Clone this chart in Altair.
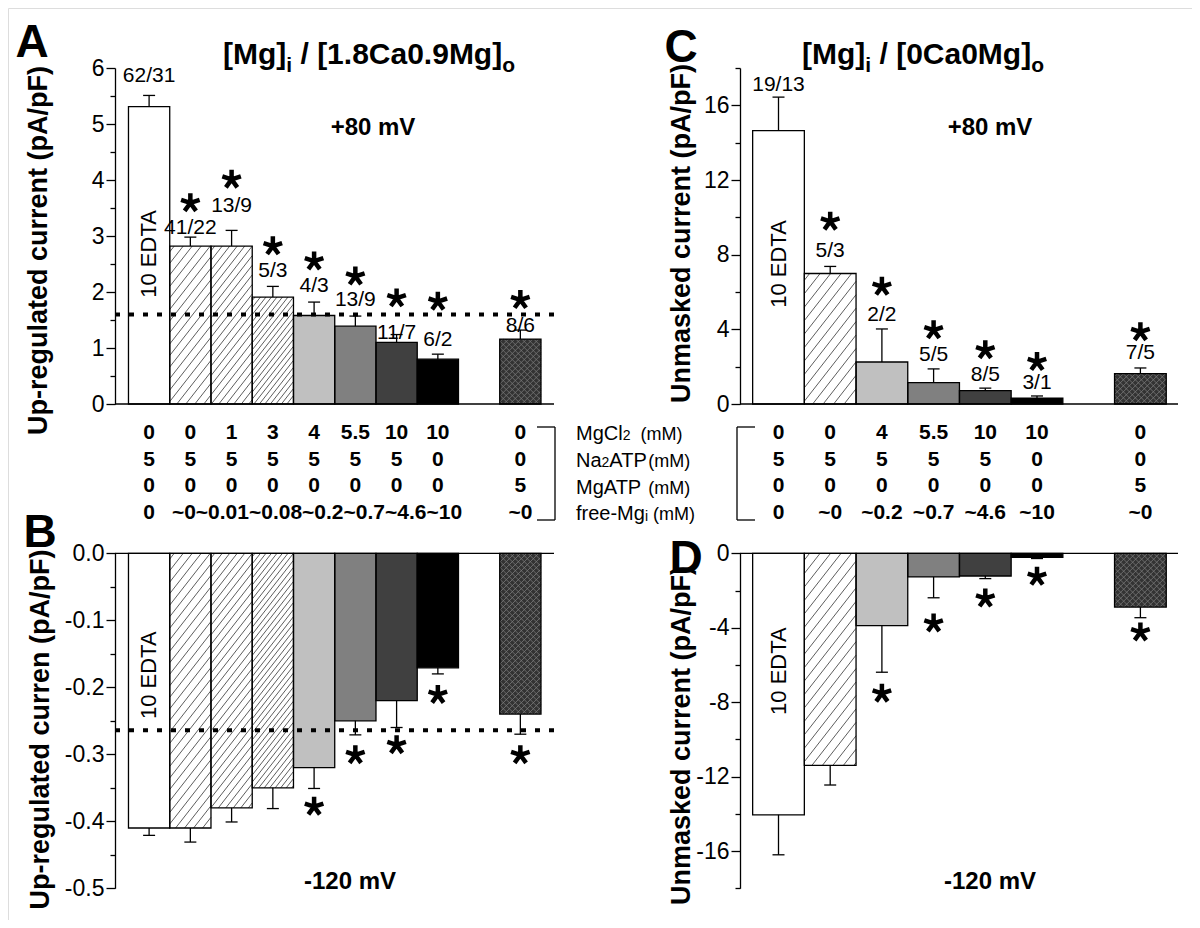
import altair as alt
import numpy as np
import pandas as pd

# ===================== DATA =====================
# Panel A / B : [Mg]i / [1.8Ca0.9Mg]o   (slot 8 is an empty gap)
A_SLOTS = [0, 1, 2, 3, 4, 5, 6, 7, 9]
A_KIND = ["edta", "hatch", "hatch", "hatch", "light", "mid", "dark", "black", "cross"]
A_MEAN = [5.31, 2.82, 2.82, 1.91, 1.58, 1.39, 1.10, 0.80, 1.16]
A_ERR = [5.51, 2.98, 3.10, 2.10, 1.82, 1.57, 1.24, 0.89, 1.32]
A_N = ["62/31", "41/22", "13/9", "5/3", "4/3", "13/9", "11/7", "6/2", "8/6"]
A_N_Y = [5.85, 3.14, 3.53, 2.37, 2.10, 1.86, 1.27, 1.15, 1.39]
A_STAR_Y = [None, 3.59, 4.01, 2.82, 2.55, 2.28, 1.89, 1.83, 1.86]
A_DASH = 1.60

B_MEAN = [-0.41, -0.41, -0.38, -0.35, -0.32, -0.25, -0.22, -0.171, -0.24]
B_ERR = [-0.421, -0.431, -0.401, -0.381, -0.351, -0.271, -0.26, -0.18, -0.27]
B_STAR_Y = [None, None, None, None, -0.378, -0.301, -0.286, -0.211, -0.301]
B_DASH = -0.264

# Panel C / D : [Mg]i / [0Ca0Mg]o   (slot 6 is an empty gap)
C_SLOTS = [0, 1, 2, 3, 4, 5, 7]
C_KIND = ["edta", "hatch", "light", "mid", "dark", "black", "cross"]
C_MEAN = [14.64, 6.99, 2.25, 1.15, 0.72, 0.32, 1.63]
C_ERR = [16.44, 7.37, 4.02, 1.88, 0.85, 0.43, 1.93]
C_N = ["19/13", "5/3", "2/2", "5/5", "8/5", "3/1", "7/5"]
C_N_Y = [17.1, 8.17, 4.77, 2.62, 1.55, 1.10, 2.74]
C_STAR_Y = [None, 9.78, 6.29, 3.96, 2.89, 2.26, 3.86]

D_MEAN = [-14.05, -11.39, -3.89, -1.27, -1.22, -0.22, -2.89]
D_ERR = [-16.2, -12.45, -6.39, -2.39, -1.36, -0.28, -3.46]
D_STAR_Y = [None, None, -7.53, -3.76, -2.42, -1.25, -4.24]

# Solution tables
A_MGCL2 = ["0", "0", "1", "3", "4", "5.5", "10", "10", "0"]
A_NA2ATP = ["5", "5", "5", "5", "5", "5", "5", "0", "0"]
A_MGATP = ["0", "0", "0", "0", "0", "0", "0", "0", "5"]
A_FREEMG = ["0", "~0", "~0.01", "~0.08", "~0.2", "~0.7", "~4.6", "~10", "~0"]
C_MGCL2 = ["0", "0", "4", "5.5", "10", "10", "0"]
C_NA2ATP = ["5", "5", "5", "5", "5", "0", "0"]
C_MGATP = ["0", "0", "0", "0", "0", "0", "5"]
C_FREEMG = ["0", "~0", "~0.2", "~0.7", "~4.6", "~10", "~0"]

# rich-text pieces: (text, font size, baseline shift)
ROW_LABEL_PARTS = [
    [("MgCl", 20, 0), ("2", 14, 0), ("  (mM)", 18, 0)],
    [("Na", 20, 0), ("2", 14, 0), ("ATP", 20, 0), ("(mM)", 18, 0)],
    [("MgATP ", 20, 0), ("(mM)", 18, 0)],
    [("free-Mg", 20, 0), ("i", 14, 1), (" (mM)", 18, 0)],
]
TITLE_A_PARTS = [("[Mg]", 30, 0), ("i", 21, 8), (" / [1.8Ca0.9Mg]", 30, 0), ("o", 21, 8)]
TITLE_C_PARTS = [("[Mg]", 30, 0), ("i", 21, 8), (" / [0Ca0Mg]", 30, 0), ("o", 21, 8)]

# ===================== LAYOUT / STYLE =====================
M = 8
VIEW_W, VIEW_H = 1184, 912
FONT = "Liberation Sans"

GEOM = {
    "A": dict(l=115, r=554, s0=149.1, sw=41.25, dom=(0, 6), pix=(404, 68)),
    "B": dict(l=115, r=554, s0=149.1, sw=41.25, dom=(-0.5, 0), pix=(888.3, 553.3)),
    "C": dict(l=740, r=1178, s0=778.5, sw=51.7, dom=(0, 18), pix=(404, 68)),
    "D": dict(l=740, r=1178, s0=778.5, sw=51.7, dom=(-18, 0), pix=(888.3, 553.3)),
}
FILL = {"edta": "white", "hatch": "white", "light": "#c0c0c0", "mid": "#808080",
        "dark": "#404040", "black": "#000000", "cross": "#333333"}
HATCH_SPACING = {"A": {1: 9, 2: 7.5, 3: 5.5}, "C": {1: 10.5}}
HATCH_SPACING["B"] = HATCH_SPACING["A"]
HATCH_SPACING["D"] = HATCH_SPACING["C"]
STAR = "M0,0L0,-1M0,0L0.951,-0.309M0,0L0.588,0.809M0,0L-0.588,0.809M0,0L-0.951,-0.309"

W_REG = {' ': 278, '(': 333, ')': 333, '-': 333, '.': 278, '/': 278, 'A': 667,
         'C': 722, 'M': 833, 'N': 722, 'P': 667, 'T': 611, 'a': 556, 'e': 556, 'f': 278,
         'g': 556, 'i': 222, 'l': 222, 'm': 833, 'o': 556, 'r': 333}
W_BOLD = {' ': 278, '[': 333, ']': 333, '/': 278, '.': 278, 'C': 722, 'M': 833,
          'a': 556, 'g': 611, 'i': 278, 'o': 611}


def text_w(s, size, bold):
    tbl = W_BOLD if bold else W_REG
    return sum(tbl.get(ch, 556) for ch in s) * size / 1000.0


def to_px(g, v):
    d0, d1 = g["dom"]
    p0, p1 = g["pix"]
    return p0 + (v - d0) / (d1 - d0) * (p1 - p0)


def to_val(g, py):
    d0, d1 = g["dom"]
    p0, p1 = g["pix"]
    return d0 + (py - p0) / (p1 - p0) * (d1 - d0)


def xscale(g):
    return alt.Scale(domain=[(g["l"] - g["s0"]) / g["sw"], (g["r"] - g["s0"]) / g["sw"]],
                     range=[g["l"] - M, g["r"] - M], nice=False, zero=False)


def yscale(g):
    return alt.Scale(domain=list(g["dom"]), range=[g["pix"][0] - M, g["pix"][1] - M],
                     nice=False, zero=False)


def hatch_lines(g, slot, va, vb, spacing, angle, sign):
    x0 = g["s0"] + (slot - 0.5) * g["sw"]
    x1 = g["s0"] + (slot + 0.5) * g["sw"]
    ya, yb = sorted([to_px(g, va), to_px(g, vb)])
    t0, t1 = -yb, -ya
    k = sign * np.tan(np.radians(angle))
    q0, q1 = t0 / k, t1 / k
    cmin, cmax = x0 - max(q0, q1), x1 - min(q0, q1)
    out = []
    for c in np.arange(cmin + spacing / 2, cmax, spacing):
        xa, xb = c + q0, c + q1
        lo, hi = max(x0, min(xa, xb)), min(x1, max(xa, xb))
        if hi - lo < 0.3:
            continue
        out.append(dict(hx1=(lo - g["s0"]) / g["sw"], hy1=to_val(g, -k * (lo - c)),
                        hx2=(hi - g["s0"]) / g["sw"], hy2=to_val(g, -k * (hi - c))))
    return out


def build_panel(key, slots, kinds, mean, err, star_y, dash, edta_y, ticks, minor_test,
                label_expr, title, title_xy, nlab=None, nlab_y=None):
    g = GEOM[key]
    xs, ys = xscale(g), yscale(g)
    yaxis = alt.Axis(
        orient="left", offset=-(g["l"] - M), values=ticks, labelExpr=label_expr,
        tickSize={"condition": {"test": minor_test, "value": 5}, "value": 9},
        tickColor="black", tickWidth=1.3, domainColor="black", domainWidth=1.3,
        labelFont=FONT, labelFontSize=23, labelColor="black", labelPadding=2,
        labelOverlap=False, labelBound=False, labelFlush=False, grid=False,
        title=title, titleFont=FONT, titleFontSize=27, titleFontWeight="bold",
        titleColor="black", titleAngle=270, titleX=title_xy[0] - g["l"],
        titleY=title_xy[1] - M, titleAlign="center", titleBaseline="middle")

    def X(f):
        return alt.X(f, type="quantitative", scale=xs, axis=None)

    def Y(f):
        return alt.Y(f, type="quantitative", scale=ys, axis=yaxis)

    bars = pd.DataFrame({"slot": slots, "mean": mean, "err": err,
                         "fill": [FILL[k] for k in kinds]})
    bars["x0"] = bars["slot"] - 0.5
    bars["x1"] = bars["slot"] + 0.5
    bars["cl"] = bars["slot"] - 6.0 / g["sw"]
    bars["cr"] = bars["slot"] + 6.0 / g["sw"]

    hatch, cross = [], []
    for s, k, m in zip(slots, kinds, mean):
        if k == "hatch":
            hatch += hatch_lines(g, s, 0, m, HATCH_SPACING[key][s], 52, 1)
        if k == "cross":
            cross += hatch_lines(g, s, 0, m, 6.0, 45, 1)
            cross += hatch_lines(g, s, 0, m, 6.0, 45, -1)

    xd = xs.domain
    lines = pd.DataFrame({"xa": [xd[0], xd[0]], "xb": [xd[1], xd[1]], "y": [dash, 0.0],
                          "kind": ["dash", "zero"]})

    layers = [
        alt.Chart(bars).mark_bar(strokeWidth=0).encode(
            x=X("x0"), x2="x1:Q", y=Y("mean"), y2=alt.datum(0),
            fill=alt.Fill("fill:N", scale=None)),
        alt.Chart(pd.DataFrame(hatch)).mark_rule(color="#333333", strokeWidth=0.8).encode(
            x=X("hx1"), y=Y("hy1"), x2="hx2:Q", y2="hy2:Q"),
        alt.Chart(pd.DataFrame(cross)).mark_rule(color="#7a7a7a", strokeWidth=0.8).encode(
            x=X("hx1"), y=Y("hy1"), x2="hx2:Q", y2="hy2:Q"),
        alt.Chart(bars).mark_bar(fillOpacity=0, stroke="black", strokeWidth=1.3).encode(
            x=X("x0"), x2="x1:Q", y=Y("mean"), y2=alt.datum(0)),
        alt.Chart(bars).mark_rule(color="black", strokeWidth=1.3).encode(
            x=X("slot"), y=Y("mean"), y2="err:Q"),
        alt.Chart(bars).mark_rule(color="black", strokeWidth=1.3).encode(
            x=X("cl"), x2="cr:Q", y=Y("err")),
        alt.Chart(lines[lines["kind"] == "dash"]).mark_rule(
            color="black", strokeWidth=4, strokeDash=[5, 9]).encode(
            x=X("xa"), x2="xb:Q", y=Y("y")),
        alt.Chart(lines[lines["kind"] == "zero"]).mark_rule(
            color="black", strokeWidth=1.3).encode(x=X("xa"), x2="xb:Q", y=Y("y")),
    ]
    if nlab is not None:
        ldf = pd.DataFrame({"slot": slots, "t": nlab, "y": nlab_y})
        layers.append(alt.Chart(ldf).mark_text(
            font=FONT, fontSize=21, color="black", baseline="middle", align="center").encode(
            x=X("slot"), y=Y("y"), text="t:N"))
    sdf = pd.DataFrame([{"slot": s, "y": v} for s, v in zip(slots, star_y) if v is not None])
    layers.append(alt.Chart(sdf).mark_point(
        shape=STAR, size=380, filled=False, stroke="black", strokeWidth=4.5, opacity=1).encode(
        x=X("slot"), y=Y("y")))
    edf = pd.DataFrame({"slot": [slots[0]], "y": [edta_y], "t": ["10 EDTA"]})
    layers.append(alt.Chart(edf).mark_text(
        font=FONT, fontSize=22, color="black", angle=270, baseline="middle",
        align="center").encode(x=X("slot"), y=Y("y"), text="t:N"))
    return alt.layer(*layers)


def build_table(key, rows):
    g = GEOM[key]
    recs = []
    for r, row in enumerate(rows):
        for s, t in row:
            recs.append({"slot": s, "row": r, "t": t})
    return alt.Chart(pd.DataFrame(recs)).mark_text(
        font=FONT, fontSize=21, fontWeight="bold", color="black", baseline="middle",
        align="center").encode(
        x=alt.X("slot:Q", scale=xscale(g), axis=None),
        y=alt.Y("row:Q", scale=alt.Scale(domain=[0, 3], range=[433 - M, 513 - M],
                                         nice=False, zero=False), axis=None),
        text="t:N")


def rich(parts, x_left, baseline, bold):
    """Place pieces one after another; blank space is turned into an x offset."""
    recs = []
    x = x_left
    for s, size, dy in parts:
        lead = s[: len(s) - len(s.lstrip())]
        recs.append({"x": x + text_w(lead, size, bold) - M, "y": baseline + dy - M,
                     "t": s.strip(), "fs": size})
        x += text_w(s, size, bold)
    return recs


def rich_layer(recs, bold):
    return alt.Chart(pd.DataFrame(recs)).mark_text(
        font=FONT, fontWeight="bold" if bold else "normal", color="black",
        align="left", baseline="alphabetic").encode(
        x=alt.X("x:Q", scale=None, axis=None), y=alt.Y("y:Q", scale=None, axis=None),
        text="t:N", size=alt.Size("fs:Q", scale=None))


# ===================== PANELS =====================
A_TICKS = [round(0.5 * i, 2) for i in range(13)]
B_TICKS = [round(-0.05 * i, 2) for i in range(11)]
C_TICKS = list(range(0, 19, 2))
D_TICKS = list(range(0, -19, -2))
MINUS = "\u2212"

pA = build_panel("A", A_SLOTS, A_KIND, A_MEAN, A_ERR, A_STAR_Y, A_DASH, 2.68, A_TICKS,
                 "abs(datum.value - round(datum.value)) > 0.001",
                 "abs(datum.value - round(datum.value)) < 0.001 ? format(datum.value, 'd') : ''",
                 "Up-regulated current  (pA/pF)", (38, 250), A_N, A_N_Y)
pB = build_panel("B", A_SLOTS, A_KIND, B_MEAN, B_ERR, B_STAR_Y, B_DASH, -0.182, B_TICKS,
                 "abs(datum.value*10 - round(datum.value*10)) > 0.001",
                 "abs(datum.value*10 - round(datum.value*10)) < 0.001 ? replace(format(datum.value, '.1f'), '"
                 + MINUS + "', '-') : ''",
                 "Up-regulated curren (pA/pF)", (40, 729))
pC = build_panel("C", C_SLOTS, C_KIND, C_MEAN, C_ERR, C_STAR_Y, None, 7.5, C_TICKS,
                 "datum.value % 4 != 0",
                 "datum.value % 4 == 0 ? format(datum.value, 'd') : ''",
                 "Unmasked current (pA/pF)", (681, 233), C_N, C_N_Y)
pD = build_panel("D", C_SLOTS, C_KIND, D_MEAN, D_ERR, D_STAR_Y, None, -6.33, D_TICKS,
                 "datum.value % 4 != 0",
                 "datum.value % 4 == 0 ? replace(format(datum.value, 'd'), '" + MINUS + "', '-') : ''",
                 "Unmasked current (pA/pF)", (681, 735))

# tables
tA_rows = [list(zip(A_SLOTS, A_MGCL2)), list(zip(A_SLOTS, A_NA2ATP)), list(zip(A_SLOTS, A_MGATP)),
           [(A_SLOTS[0], A_FREEMG[0]), (4.07, "".join(A_FREEMG[1:8])), (A_SLOTS[8], A_FREEMG[8])]]
tC_rows = [list(zip(C_SLOTS, C_MGCL2)), list(zip(C_SLOTS, C_NA2ATP)), list(zip(C_SLOTS, C_MGATP)),
           list(zip(C_SLOTS, C_FREEMG))]
tA = build_table("A", tA_rows)
tC = build_table("C", tC_rows)

# row labels (between the two tables)
row_recs = []
for i, parts in enumerate(ROW_LABEL_PARTS):
    row_recs += rich(parts, 576, [433, 460, 487, 513][i] + 7, False)
rowlab = rich_layer(row_recs, False)


# titles with subscripts
def centered(parts, cx, base):
    total = sum(text_w(s, sz, True) for s, sz, _ in parts)
    return rich(parts, cx - total / 2, base, True)


titles = rich_layer(centered(TITLE_A_PARTS, 369, 64) + centered(TITLE_C_PARTS, 923, 64), True)

# brackets
br = pd.DataFrame([
    {"x": 555, "x2": 555, "y": 427, "y2": 520}, {"x": 537, "x2": 555, "y": 427, "y2": 427},
    {"x": 537, "x2": 555, "y": 520, "y2": 520},
    {"x": 737, "x2": 737, "y": 427, "y2": 520}, {"x": 737, "x2": 755, "y": 427, "y2": 427},
    {"x": 737, "x2": 755, "y": 520, "y2": 520},
])
for c in br.columns:
    br[c] = br[c] - M
brackets = alt.Chart(br).mark_rule(color="black", strokeWidth=1.3).encode(
    x=alt.X("x:Q", scale=None, axis=None), x2="x2:Q",
    y=alt.Y("y:Q", scale=None, axis=None), y2="y2:Q")

# panel letters and voltage labels
letters = pd.DataFrame({"t": ["A", "B", "C", "D"], "x": [32, 40, 681, 686],
                        "y": [57, 547, 62, 573]})
letters["x"] -= M
letters["y"] -= M
let_layer = alt.Chart(letters).mark_text(
    font=FONT, fontSize=46, fontWeight="bold", color="black", align="center",
    baseline="alphabetic").encode(
    x=alt.X("x:Q", scale=None, axis=None), y=alt.Y("y:Q", scale=None, axis=None), text="t:N")

mv = pd.DataFrame({"t": ["+80 mV", "+80 mV", "-120 mV", "-120 mV"],
                   "x": [373, 990, 350, 990], "y": [128, 128, 882, 882]})
mv["x"] -= M
mv["y"] -= M
mv_layer = alt.Chart(mv).mark_text(
    font=FONT, fontSize=24, fontWeight="bold", color="black", align="center",
    baseline="middle").encode(
    x=alt.X("x:Q", scale=None, axis=None), y=alt.Y("y:Q", scale=None, axis=None), text="t:N")

chart = alt.layer(pA, pB, pC, pD, tA, tC, rowlab, titles, brackets, let_layer, mv_layer).resolve_scale(
    x="independent", y="independent").properties(
    width=VIEW_W, height=VIEW_H, autosize=alt.AutoSizeParams(type="none"), padding=0
).configure_view(stroke=None).configure(font=FONT, background="white")

chart.save("out.html", embed_options={"renderer": "svg", "actions": False})
